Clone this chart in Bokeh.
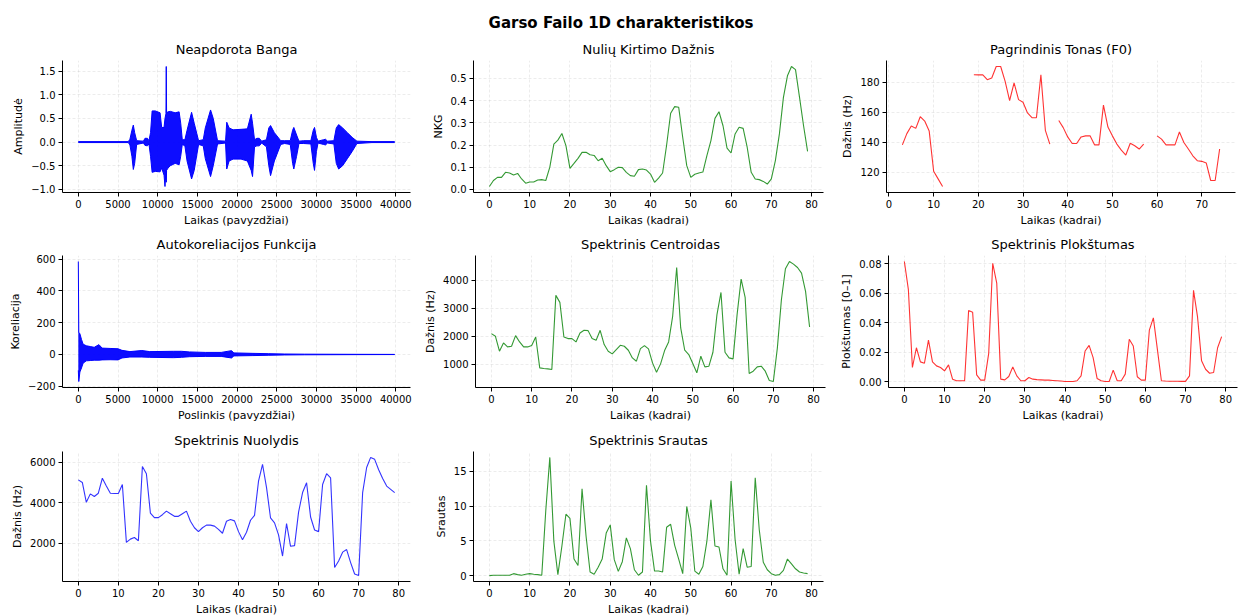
import numpy as np
from bokeh.plotting import figure
from bokeh.layouts import column, row
from bokeh.models import Range1d, FixedTicker, CustomJSTickFormatter
from bokeh.embed import file_html
from bokeh.resources import INLINE
from bokeh.core.properties import value

FONT = "DejaVu Sans"
SUPTITLE = "Garso Failo 1D charakteristikos"

# ---------------- data ----------------
# raw waveform (envelope: sample index, upper, lower)
wave_pos = [0, 6300, 6500, 6750, 6930, 7100, 7350, 8200, 8400, 8700, 8900, 9100, 9300, 9700,
            10300, 10500, 10800, 10920, 11040, 11080, 11120, 11300, 11600, 12200, 12700, 12900,
            13100, 13430, 13700, 14270, 14600, 15150, 15740, 16000, 16660, 17000, 17540, 18550,
            18700, 19000, 19500, 20500, 21300, 21780, 21950, 22200, 22500, 22800, 23100, 23700,
            24000, 24220, 24700, 25500, 26000, 26700, 27000, 27150, 27500, 27800, 28400, 29300,
            29600, 29760, 30000, 30200, 30900, 31140, 31400, 32200, 32500, 32800, 33300, 33900,
            34500, 35100, 37000, 39859]
wave_hi = [0.01, 0.01, 0.06, 0.25, 0.36, 0.2, 0.03, 0.02, 0.08, 0.08, 0.03, 0.2, 0.66, 0.66,
           0.62, 0.31, 0.31, 0.5, 0.6, 1.6, 0.62, 0.64, 0.65, 0.62, 0.64, 0.4,
           0.05, 0.05, 0.25, 0.63, 0.4, 0.03, 0.05, 0.3, 0.68, 0.5, 0.03, 0.02,
           0.42, 0.3, 0.26, 0.27, 0.28, 0.59, 0.4, 0.05, 0.08, 0.08, 0.02, 0.05,
           0.3, 0.35, 0.2, 0.03, 0.03, 0.03, 0.25, 0.31, 0.15, 0.02, 0.03, 0.03,
           0.25, 0.31, 0.1, 0.02, 0.05, 0.06, 0.02, 0.03, 0.3, 0.37, 0.3, 0.2,
           0.1, 0.02, 0.01, 0.01]
wave_lo = [-0.01, -0.01, -0.06, -0.3, -0.58, -0.45, -0.05, -0.02, -0.07, -0.08, -0.04, -0.3, -0.64, -0.62,
           -0.63, -0.55, -0.7, -0.94, -0.6, -0.85, -0.6, -0.55, -0.5, -0.45, -0.48, -0.3,
           -0.05, -0.08, -0.4, -0.78, -0.6, -0.05, -0.08, -0.35, -0.73, -0.5, -0.04, -0.02,
           -0.57, -0.4, -0.36, -0.36, -0.4, -0.6, -0.73, -0.1, -0.08, -0.08, -0.02, -0.1,
           -0.5, -0.71, -0.4, -0.05, -0.03, -0.05, -0.45, -0.57, -0.3, -0.03, -0.03, -0.04,
           -0.45, -0.6, -0.2, -0.02, -0.05, -0.06, -0.02, -0.04, -0.45, -0.57, -0.5, -0.35,
           -0.2, -0.03, -0.01, -0.01]

# autocorrelation (envelope: lag, upper, lower)
acf_lag = [0, 60, 200, 400, 600, 1000, 1500, 2000, 2600, 3000, 4000, 5000, 5500, 6500, 8000,
           9000, 12000, 13000, 14000, 16000, 18000, 19300, 19600, 22000, 24000, 26000, 28500,
           35000, 39859]
acf_hi = [585, 140, 130, 95, 65, 55, 50, 45, 62, 40, 38, 36, 26, 18, 25,
          18, 20, 20, 16, 13, 13, 24, 10, 7, 5, 3, 2, 1, 0.5]
acf_lo = [-100, -170, -110, -85, -55, -40, -38, -36, -36, -34, -33, -34, -22, -16, -16,
          -18, -20, -18, -14, -12, -12, -22, -9, -7, -5, -3, -2, -1, -0.5]

frames = list(range(80))
nan = float("nan")

zcr = [0.013, 0.04, 0.054, 0.054, 0.077, 0.074, 0.065, 0.072, 0.047, 0.028,
       0.033, 0.033, 0.042, 0.044, 0.04, 0.1, 0.204, 0.222, 0.252, 0.197,
       0.095, 0.117, 0.14, 0.167, 0.167, 0.156, 0.153, 0.129, 0.14, 0.107,
       0.08, 0.089, 0.1, 0.098, 0.077, 0.062, 0.059, 0.089, 0.092, 0.087,
       0.069, 0.032, 0.051, 0.074, 0.2, 0.343, 0.373, 0.37, 0.234, 0.107,
       0.054, 0.068, 0.074, 0.078, 0.152, 0.22, 0.32, 0.35, 0.287, 0.186,
       0.164, 0.25, 0.28, 0.275, 0.19, 0.077, 0.047, 0.044, 0.036, 0.024,
       0.047, 0.13, 0.25, 0.415, 0.512, 0.554, 0.54, 0.415, 0.287, 0.171]

f0 = [nan, nan, nan, 138.3, 145.8, 150.9, 149.3, 157.1, 154.2, 147.6,
      120.7, 115.6, 110.5, nan, nan, nan, nan, nan, nan, 185.1,
      185.0, 185.0, 181.8, 182.9, 190.6, 190.6, 180.7, 167.9, 179.6, 168.5,
      166.7, 159.6, 156.4, 156.4, 185.1, 148.0, 138.8, nan, 154.6, 149.8,
      143.6, 139.2, 139.2, 143.6, 144.3, 144.3, 138.3, 138.3, 164.8, 150.2,
      144.3, 138.8, 134.8, 131.5, 139.4, 137.7, 135.5, 138.8, nan, nan,
      144.3, 142.1, 138.3, 138.3, 138.3, 146.9, 139.9, 135.5, 131.0, 127.7,
      127.3, 126.2, 114.5, 114.5, 135.5, nan, nan, nan, nan, nan]

centroid = [2087, 1992, 1459, 1755, 1613, 1636, 2016, 1790, 1613, 1613,
            1660, 1968, 866, 842, 830, 806, 3451, 3202, 1968, 1909,
            1909, 1790, 2110, 2206, 2194, 1909, 1850, 2206, 1696, 1459,
            1364, 1518, 1672, 1636, 1494, 1221, 1103, 1553, 1660, 1542,
            1044, 711, 1008, 1482, 1790, 2704, 4447, 2289, 1494, 1340,
            1020, 688, 1281, 901, 925, 1423, 2763, 3557, 1423, 1221,
            1186, 2763, 4032, 3380, 664, 747, 901, 925, 747, 415,
            379, 1577, 3297, 4400, 4660, 4565, 4447, 4245, 3593, 2324]

flatness = [0.0816, 0.0625, 0.0097, 0.0231, 0.0135, 0.0126, 0.0283, 0.0135, 0.0108, 0.0097,
            0.0074, 0.0115, 0.0018, 0.0007, 0.0007, 0.0007, 0.0483, 0.0472, 0.0047, 0.0011,
            0.0011, 0.0193, 0.0804, 0.067, 0.0018, 0.0013, 0.0036, 0.0101, 0.004, 0.0007,
            0.0007, 0.0029, 0.0018, 0.0015, 0.0013, 0.0011, 0.0011, 0.0009, 0.0007, 0.0005,
            0.0002, 0.0002, 0.0002, 0.0007, 0.004, 0.0209, 0.0247, 0.0164, 0.0022, 0.0007,
            0.0002, 0.0002, 0.0079, 0.0007, 0.0007, 0.0052, 0.0288, 0.0243, 0.0034, 0.0011,
            0.0011, 0.035, 0.0434, 0.022, 0.0007, 0.0005, 0.0004, 0.0004, 0.0004, 0.0003,
            0.0003, 0.004, 0.062, 0.044, 0.0142, 0.0085, 0.0058, 0.0063, 0.0231, 0.0306]

rolloff = [5129, 5000, 4016, 4435, 4306, 4468, 5210, 4823, 4468, 4452,
           4452, 4903, 2032, 2194, 2274, 2113, 5790, 5435, 3484, 3258,
           3258, 3403, 3581, 3452, 3323, 3323, 3452, 3581, 3081, 2758,
           2565, 2758, 2887, 2887, 2839, 2677, 2484, 3081, 3161, 3097,
           2565, 2161, 2532, 3129, 3371, 5065, 5903, 4742, 3242, 3000,
           2403, 1355, 2968, 1839, 1871, 3532, 4500, 4984, 3290, 2645,
           2565, 4903, 5435, 5226, 790, 1113, 1548, 1677, 1032, 468,
           387, 4500, 5742, 6242, 6145, 5629, 5194, 4823, 4661, 4500]

flux = [0.0, 0.05, 0.05, 0.05, 0.05, 0.05, 0.28, 0.14, 0.05, 0.19,
        0.28, 0.19, 0.14, 0.05, 9.4, 17.0, 4.95, 0.14, 4.25, 8.83,
        8.22, 2.38, 1.45, 12.5, 5.65, 0.51, 0.19, 1.21, 2.38, 6.12,
        7.29, 2.29, 0.61, 2.0, 5.42, 3.88, 0.84, 0.05, 0.51, 13.0,
        4.95, 0.65, 0.65, 0.51, 6.96, 7.38, 4.35, 2.38, 0.28, 9.95,
        6.82, 0.65, 0.19, 1.31, 4.95, 10.9, 4.25, 4.11, 0.98, 0.05,
        13.6, 5.19, 0.19, 3.88, 1.21, 1.31, 14.07, 6.59, 1.92, 0.84,
        0.28, 0.05, 0.14, 0.75, 2.38, 1.68, 0.98, 0.51, 0.37, 0.28]

# tick labels
samp_ticks = [0, 5000, 10000, 15000, 20000, 25000, 30000, 35000, 40000]
frame_ticks = [0, 10, 20, 30, 40, 50, 60, 70, 80]
wave_yticks = [-1.0, -0.5, 0.0, 0.5, 1.0, 1.5]
zcr_yticks = [0.0, 0.1, 0.2, 0.3, 0.4, 0.5]
f0_yticks = [120, 140, 160, 180]
acf_yticks = [-200, 0, 200, 400, 600]
cent_yticks = [1000, 2000, 3000, 4000]
flat_yticks = [0.0, 0.02, 0.04, 0.06, 0.08]
roll_yticks = [2000, 4000, 6000]
flux_yticks = [0, 5, 10, 15]


# ---------------- helpers ----------------
def padded(vals, frac=0.05):
    a = np.asarray(vals, dtype=float)
    lo, hi = np.nanmin(a), np.nanmax(a)
    d = (hi - lo) * frac
    return lo - d, hi + d


def fmt(dec):
    return CustomJSTickFormatter(args=dict(d=dec),
                                 code="return tick.toFixed(d).replace('-', '\\u2212');")


def make_fig(title, xvals, yvals, xticks, yticks, xdec, ydec, xlabel, ylabel,
             col, fh, top, bottom):
    left, fw, right = col
    p = figure(frame_width=fw, frame_height=fh,
               min_border_left=left, min_border_right=right,
               min_border_top=top, min_border_bottom=bottom,
               x_range=Range1d(*padded(xvals)), y_range=Range1d(*padded(yvals)),
               toolbar_location=None, output_backend="svg", title=title)
    p.title.align = "center"
    p.title.text_font = FONT
    p.title.text_font_size = "13px"
    p.title.text_font_style = "normal"
    p.title.text_color = "#000000"
    p.title.standoff = 8
    p.outline_line_color = None
    for ax, ticks, dec, lab in ((p.xaxis[0], xticks, xdec, xlabel),
                                (p.yaxis[0], yticks, ydec, ylabel)):
        ax.ticker = FixedTicker(ticks=ticks)
        ax.formatter = fmt(dec)
        ax.axis_label = lab
        ax.axis_label_text_font = FONT
        ax.axis_label_text_font_size = "11px"
        ax.axis_label_text_font_style = "normal"
        ax.axis_label_text_color = "#000000"
        ax.major_label_text_font = FONT
        ax.major_label_text_font_size = "10px"
        ax.major_label_text_color = "#000000"
        ax.major_tick_out = 4
        ax.major_tick_in = 0
        ax.minor_tick_out = 0
        ax.minor_tick_in = 0
        ax.axis_line_color = "#000000"
        ax.major_tick_line_color = "#000000"
        ax.major_label_standoff = 3
        ax.axis_label_standoff = 3
    p.xgrid.ticker = FixedTicker(ticks=xticks)
    p.ygrid.ticker = FixedTicker(ticks=yticks)
    p.grid.grid_line_color = "#b0b0b0"
    p.grid.grid_line_alpha = 0.3
    p.grid.grid_line_dash = "3 2"
    p.grid.grid_line_width = 0.8
    return p


# column geometry: (left border, frame width, right border)
C1 = (62, 348, 11)
C2 = (52, 350, 11)
C3 = (52, 349, 6)
# row geometry: (frame height, top border, bottom border)
R1 = (132, 26, 37)
R2 = (132, 26, 37)
R3 = (130, 27, 35)

# ---------------- panels ----------------
p1 = make_fig("Neapdorota Banga", wave_pos, wave_hi + wave_lo, samp_ticks, wave_yticks, 0, 1,
              "Laikas (pavyzdžiai)", "Amplitudė", C1, *R1)
p1.varea(x=wave_pos, y1=wave_lo, y2=wave_hi, fill_color="blue", fill_alpha=0.95)
p1.line(wave_pos, wave_hi, line_color="blue", line_width=1)
p1.line(wave_pos, wave_lo, line_color="blue", line_width=1)

p2 = make_fig("Nulių Kirtimo Dažnis", frames, zcr, frame_ticks, zcr_yticks, 0, 1,
              "Laikas (kadrai)", "NKG", C2, *R1)
p2.line(frames, zcr, line_color="green", line_alpha=0.8, line_width=1.1)

p3 = make_fig("Pagrindinis Tonas (F0)", [x for x, v in zip(frames, f0) if v == v], f0,
              frame_ticks, f0_yticks, 0, 0, "Laikas (kadrai)", "Dažnis (Hz)", C3, *R1)
p3.line(frames, f0, line_color="red", line_alpha=0.8, line_width=1.1)

p4 = make_fig("Autokoreliacijos Funkcija", acf_lag, acf_hi + acf_lo, samp_ticks, acf_yticks, 0, 0,
              "Poslinkis (pavyzdžiai)", "Koreliacija", C1, *R2)
p4.varea(x=acf_lag, y1=acf_lo, y2=acf_hi, fill_color="blue", fill_alpha=0.95)
p4.line(acf_lag, acf_hi, line_color="blue", line_width=1)
p4.line(acf_lag, acf_lo, line_color="blue", line_width=1)

p5 = make_fig("Spektrinis Centroidas", frames, centroid, frame_ticks, cent_yticks, 0, 0,
              "Laikas (kadrai)", "Dažnis (Hz)", C2, *R2)
p5.line(frames, centroid, line_color="green", line_alpha=0.8, line_width=1.1)

p6 = make_fig("Spektrinis Plokštumas", frames, flatness, frame_ticks, flat_yticks, 0, 2,
              "Laikas (kadrai)", "Plokštumas [0–1]", C3, *R2)
p6.line(frames, flatness, line_color="red", line_alpha=0.8, line_width=1.1)

p7 = make_fig("Spektrinis Nuolydis", frames, rolloff, frame_ticks, roll_yticks, 0, 0,
              "Laikas (kadrai)", "Dažnis (Hz)", C1, *R3)
p7.line(frames, rolloff, line_color="blue", line_alpha=0.8, line_width=1.1)

p8 = make_fig("Spektrinis Srautas", frames, flux, frame_ticks, flux_yticks, 0, 0,
              "Laikas (kadrai)", "Srautas", C2, *R3)
p8.line(frames, flux, line_color="green", line_alpha=0.8, line_width=1.1)

# ---------------- suptitle ----------------
total_w = sum(C1) + sum(C2) + sum(C3)
t = figure(width=total_w, height=34, x_range=Range1d(0, 1), y_range=Range1d(0, 1),
           toolbar_location=None, output_backend="svg", min_border=0,
           x_axis_location=None, y_axis_location=None)
t.grid.visible = False
t.outline_line_color = None
t.text(x=[0.5], y=[0.35], text=[SUPTITLE], text_align="center", text_baseline="middle",
       text_font=value(FONT), text_font_size="15px", text_font_style="bold", text_color="#000000")

layout = column(t, row(p1, p2, p3), row(p4, p5, p6), row(p7, p8))
open("out.html", "w").write(file_html(layout, INLINE))
